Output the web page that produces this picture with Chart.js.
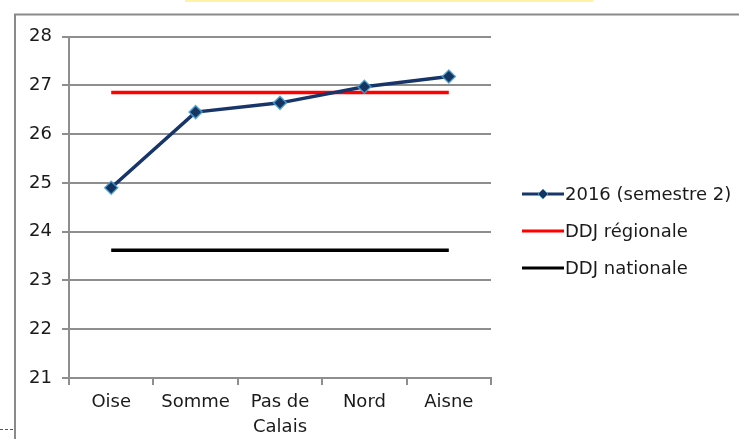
<!DOCTYPE html>
<html>
<head>
<meta charset="utf-8">
<script src="https://cdn.jsdelivr.net/npm/chart.js@4/dist/chart.umd.min.js"></script>
<style>
  body { margin: 0; background: #fff; }
  #wrap { position: relative; width: 739px; height: 439px; overflow: hidden; }
  #topbar { position: absolute; left: 185px; top: 0; width: 408px; height: 2px; background: #fff1a6; }
  #dash { position: absolute; left: 0; top: 429px; width: 13px; border-top: 1px dashed #555; }
</style>
</head>
<body>
<div id="wrap">
  <canvas id="ddjChart" width="739" height="439"></canvas>
  <div id="topbar"></div>
  <div id="dash"></div>
</div>
<script>
// categories and values
var departements = ['Oise', 'Somme', ['Pas de', 'Calais'], 'Nord', 'Aisne'];
var semestre2 = [24.9, 26.45, 26.64, 26.97, 27.18];
var ddjRegionale = [26.85, 26.85, 26.85, 26.85, 26.85];
var ddjNationale = [23.62, 23.62, 23.62, 23.62, 23.62];
var yMin = 21, yMax = 28;

var font = { family: "'DejaVu Sans', sans-serif", size: 18 };
var gridGrey = '#8e8e8e';

// grey frame round the plot, open to the right and bottom
var framePlugin = {
	id: 'frame',
	beforeDraw: function(chart) {
		var c = chart.ctx;
		c.save();
		c.strokeStyle = '#8a8a8a';
		c.lineWidth = 2;
		c.beginPath();
		c.moveTo(15, 439);
		c.lineTo(15, 14.5);
		c.lineTo(739, 14.5);
		c.stroke();
		c.restore();
	}
};

// legend drawn by hand, to the right of the plot
var legendPlugin = {
	id: 'sideLegend',
	afterDraw: function(chart) {
		var c = chart.ctx;
		var rows = [194, 231, 268];
		c.save();
		c.font = font.size + 'px ' + font.family;
		c.textBaseline = 'middle';
		chart.data.datasets.forEach(function(ds, i) {
			var y = rows[i];
			c.strokeStyle = ds.borderColor;
			c.lineWidth = 3;
			c.beginPath();
			c.moveTo(522, y);
			c.lineTo(564, y);
			c.stroke();
			if (ds.pointRadius > 0) {
				c.fillStyle = ds.pointBackgroundColor;
				c.strokeStyle = ds.pointBorderColor;
				c.lineWidth = 1;
				c.beginPath();
				c.moveTo(543, y - 5);
				c.lineTo(548, y);
				c.lineTo(543, y + 5);
				c.lineTo(538, y);
				c.closePath();
				c.fill();
				c.stroke();
			}
			c.fillStyle = '#1a1a1a';
			c.fillText(ds.label, 565, y + 1);
		});
		c.restore();
	}
};

new Chart(document.getElementById('ddjChart'), {
	type: 'line',
	data: {
		labels: departements,
		datasets: [{
			label: '2016 (semestre 2)',
			data: semestre2,
			borderColor: '#17356a',
			borderWidth: 3.5,
			pointStyle: 'rectRot',
			pointRadius: 6.5,
			pointBackgroundColor: '#15345f',
			pointBorderColor: 'rgba(70,160,210,0.85)',
			pointBorderWidth: 1.5,
			tension: 0
		}, {
			label: 'DDJ régionale',
			data: ddjRegionale,
			borderColor: '#ff0000',
			borderWidth: 3.5,
			pointRadius: 0
		}, {
			label: 'DDJ nationale',
			data: ddjNationale,
			borderColor: '#000000',
			borderWidth: 3.5,
			pointRadius: 0
		}]
	},
	options: {
		responsive: false,
		animation: false,
		devicePixelRatio: 1,
		layout: { padding: { left: 0, top: 36.5, right: 248, bottom: 0 } },
		plugins: {
			legend: { display: false },
			tooltip: { enabled: false }
		},
		scales: {
			x: {
				offset: true,
				grid: {
					offset: true,
					drawOnChartArea: false,
					drawTicks: true,
					tickLength: 7,
					color: gridGrey,
					lineWidth: 2
				},
				border: { color: gridGrey, width: 2 },
				ticks: {
					color: '#1a1a1a',
					font: { family: font.family, size: 18, lineHeight: 1.39 },
					padding: 5,
					maxRotation: 0,
					autoSkip: false
				},
				afterFit: function(scale) { scale.height = 61; }
			},
			y: {
				min: yMin,
				max: yMax,
				ticks: {
					stepSize: 1,
					color: '#1a1a1a',
					font: font,
					padding: 10
				},
				grid: { color: gridGrey, lineWidth: 2, tickLength: 7 },
				border: { color: gridGrey, width: 2 },
				afterFit: function(scale) { scale.width = 69; }
			}
		}
	},
	plugins: [framePlugin, legendPlugin]
});
</script>
</body>
</html>
